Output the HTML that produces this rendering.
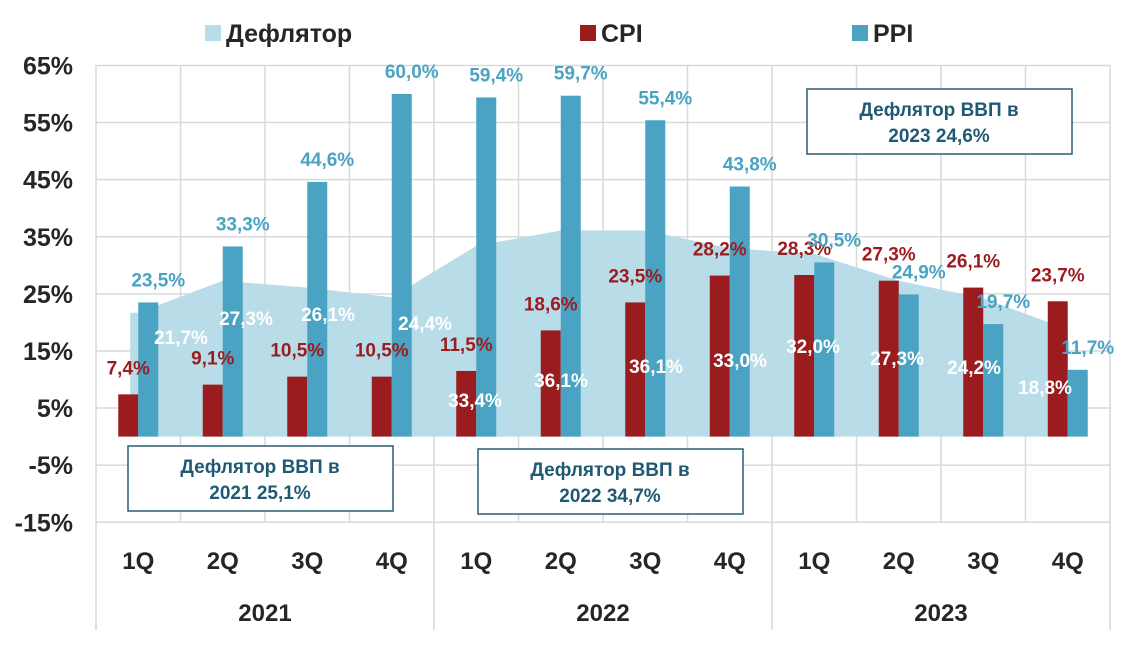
<!DOCTYPE html>
<html><head><meta charset="utf-8">
<style>
body{margin:0;background:#fff;}
svg text{font-family:"Liberation Sans",sans-serif;font-weight:bold;}
</style></head>
<body>
<svg id="chart" width="1122" height="660" viewBox="0 0 1122 660" xmlns="http://www.w3.org/2000/svg">
<g id="grid"></g>
<g id="area"></g>
<g id="bars"></g>
<g id="labels"></g>
<g id="axes"></g>
<g>
  <rect x="205" y="25" width="16" height="16" fill="#b8dce8"/>
  <text x="226" y="42" font-size="25" fill="#262626">Дефлятор</text>
  <rect x="580" y="25" width="16" height="16" fill="#9b1c1f"/>
  <text x="601" y="42" font-size="25" fill="#262626">CPI</text>
  <rect x="852" y="25" width="16" height="16" fill="#4ba3c3"/>
  <text x="873" y="42" font-size="25" fill="#262626">PPI</text>
</g>
<g>
  <rect x="807" y="89" width="265" height="65" fill="#fff" stroke="#2a5f75" stroke-width="1.5"/>
  <text x="939" y="116" font-size="19" fill="#1f5a72" text-anchor="middle">Дефлятор ВВП в</text>
  <text x="939" y="142" font-size="19" fill="#1f5a72" text-anchor="middle">2023 24,6%</text>
</g>
<g>
  <rect x="128" y="446" width="265" height="65" fill="#fff" stroke="#2a5f75" stroke-width="1.5"/>
  <text x="260" y="473" font-size="19" fill="#1f5a72" text-anchor="middle">Дефлятор ВВП в</text>
  <text x="260" y="499" font-size="19" fill="#1f5a72" text-anchor="middle">2021 25,1%</text>
</g>
<g>
  <rect x="478" y="449" width="265" height="65" fill="#fff" stroke="#2a5f75" stroke-width="1.5"/>
  <text x="610" y="476" font-size="19" fill="#1f5a72" text-anchor="middle">Дефлятор ВВП в</text>
  <text x="610" y="502" font-size="19" fill="#1f5a72" text-anchor="middle">2022 34,7%</text>
</g>
</svg>
<script>
const quarters=["1Q","2Q","3Q","4Q","1Q","2Q","3Q","4Q","1Q","2Q","3Q","4Q"];
const years=["2021","2022","2023"];
const deflator=[21.7,27.3,26.1,24.4,33.4,36.1,36.1,33.0,32.0,27.3,24.2,18.8];
const cpi=[7.4,9.1,10.5,10.5,11.5,18.6,23.5,28.2,28.3,27.3,26.1,23.7];
const ppi=[23.5,33.3,44.6,60.0,59.4,59.7,55.4,43.8,30.5,24.9,19.7,11.7];
const yTicks=[65,55,45,35,25,15,5,-5,-15];
// layout only: white deflator label positions (not data)
const defLabelXY=[[181,338],[246,319],[328,315],[425,324],[475,401],[561,381],[656,367],[740,361],[813,347],[897,359],[974,368],[1045,388]];

const NS="http://www.w3.org/2000/svg";
const x0=96,x1=1110,bw=(x1-x0)/quarters.length;
const y=v=>436.6-v*5.71;
const cx=i=>x0+bw*(i+0.5);
const fmt=v=>v.toFixed(1).replace('.',',')+'%';
function mk(tag,attrs,parent,txt){const e=document.createElementNS(NS,tag);for(const k in attrs)e.setAttribute(k,attrs[k]);if(txt!==undefined)e.textContent=txt;document.getElementById(parent).appendChild(e);return e;}

yTicks.forEach(t=>{
  const l=mk('line',{x1:x0,x2:x1,y1:y(t),y2:y(t),stroke:'#d9d9d9','stroke-width':1.5},'grid');
  
  
  const tx=mk('text',{x:73,y:y(t)+9,'font-size':25,fill:'#262626','text-anchor':'end'},'axes',t+'%');
  
  
});
for(let i=0;i<=quarters.length;i++){
  const l=mk('line',{x1:x0+bw*i,x2:x0+bw*i,y1:65,y2:522,stroke:'#d9d9d9','stroke-width':1.5},'grid');
  
  
}
let d='M'+(cx(0)-8)+' '+y(0)+' L'+(cx(0)-8)+' '+y(deflator[0]);
deflator.forEach((v,i)=>{d+=' L'+cx(i)+' '+y(v);});
d+=' L'+cx(deflator.length-1)+' '+y(0)+' Z';
const ar=mk('path',{d:d,fill:'#b8dce8'},'area');


const w=20;
quarters.forEach((q,i)=>{
  const c=cx(i);
  const b1=mk('rect',{x:c-w,y:y(cpi[i]),width:w,height:y(0)-y(cpi[i]),fill:'#9b1c1f'},'bars');
  
  
  const b2=mk('rect',{x:c,y:y(ppi[i]),width:w,height:y(0)-y(ppi[i]),fill:'#4ba3c3'},'bars');
  
  
  const t1=mk('text',{x:c-w/2,y:y(cpi[i])-20,'font-size':19,fill:'#9b1c1f','text-anchor':'middle'},'labels',fmt(cpi[i]));
  
  
  const t2=mk('text',{x:c+w/2+10,y:y(ppi[i])-16,'font-size':19,fill:'#4ba3c3','text-anchor':'middle'},'labels',fmt(ppi[i]));
  
  
  const t3=mk('text',{x:defLabelXY[i][0],y:defLabelXY[i][1]+6,'font-size':19,fill:'#fff','text-anchor':'middle'},'labels',fmt(deflator[i]));
  
  
  const tq=mk('text',{x:c,y:569,'font-size':24,fill:'#262626','text-anchor':'middle'},'axes',q);
  
  
});
years.forEach((yr,j)=>{
  const ty=mk('text',{x:x0+bw*4*(j+0.5),y:621,'font-size':24,fill:'#262626','text-anchor':'middle'},'axes',yr);
  
  
});
for(let j=0;j<=years.length;j++){
  const l=mk('line',{x1:x0+bw*4*j,x2:x0+bw*4*j,y1:522,y2:630,stroke:'#d9d9d9','stroke-width':1.5},'axes');
  
  
}
</script>
</body></html>
